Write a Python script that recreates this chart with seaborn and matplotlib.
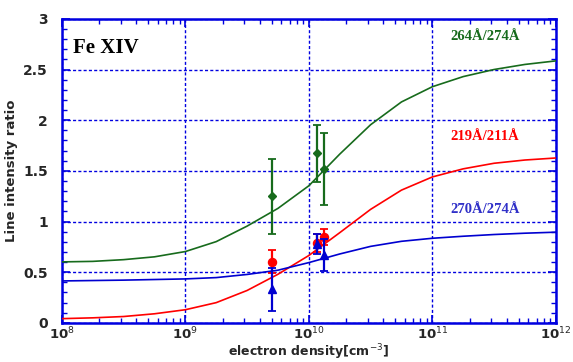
import numpy as np
import pandas as pd
import matplotlib
matplotlib.use("Agg")
import matplotlib.pyplot as plt
import seaborn as sns
from matplotlib.ticker import LogLocator, MultipleLocator, NullFormatter, FixedLocator

# ---- data ----
log_density = [8.0, 8.25, 8.5, 8.75, 9.0, 9.25, 9.5, 9.75, 10.0, 10.25, 10.5, 10.75, 11.0, 11.25, 11.5, 11.75, 12.0]
ratio_264_274 = [0.602, 0.607, 0.624, 0.652, 0.704, 0.802, 0.955, 1.13, 1.353, 1.665, 1.955, 2.18, 2.33, 2.43, 2.50, 2.55, 2.585]
ratio_219_211 = [0.042, 0.05, 0.063, 0.09, 0.13, 0.20, 0.32, 0.48, 0.665, 0.89, 1.12, 1.31, 1.44, 1.52, 1.575, 1.607, 1.627]
ratio_270_274 = [0.414, 0.418, 0.422, 0.428, 0.434, 0.447, 0.478, 0.52, 0.595, 0.68, 0.755, 0.805, 0.835, 0.855, 0.872, 0.885, 0.895]

obs_density = [5.0e9, 1.17e10, 1.32e10]
obs_264_274 = [1.248, 1.673, 1.519]
err_264_274 = [0.366, 0.282, 0.357]
obs_219_211 = [0.605, 0.79, 0.845]
err_219_211 = [0.115, 0.09, 0.08]
obs_270_274 = [0.33, 0.78, 0.668]
err_270_274 = [0.215, 0.10, 0.16]

series_labels = ["264\u00c5/274\u00c5", "219\u00c5/211\u00c5", "270\u00c5/274\u00c5"]
x_ticks = [1e8, 1e9, 1e10, 1e11, 1e12]
x_ticklabels = ["10$^{8}$", "10$^{9}$", "10$^{10}$", "10$^{11}$", "10$^{12}$"]
y_ticks = [0, 0.5, 1, 1.5, 2, 2.5, 3]
y_ticklabels = ["0", "0.5", "1", "1.5", "2", "2.5", "3"]

GREEN = "#176b1c"
RED = "#ff0000"
BLUE = "#0000d0"
AXBLUE = "#0000e0"

sns.set_style("ticks")
plt.rcParams['font.family'] = ['DejaVu Sans']

fig = plt.figure(figsize=(5.73, 3.62), dpi=100)
ax = fig.add_axes([0.108, 0.108, 0.862, 0.840])

dens = [10 ** v for v in log_density]
curves = pd.DataFrame({
    "density": dens * 3,
    "ratio": ratio_264_274 + ratio_219_211 + ratio_270_274,
    "series": [series_labels[0]] * len(dens) + [series_labels[1]] * len(dens) + [series_labels[2]] * len(dens),
})
palette = {series_labels[0]: GREEN, series_labels[1]: RED, series_labels[2]: BLUE}
sns.lineplot(data=curves, x="density", y="ratio", hue="series", palette=palette,
             linewidth=1.2, legend=False, ax=ax, zorder=3)

ax.errorbar(obs_density, obs_264_274, yerr=err_264_274, fmt="D", color=GREEN,
            markersize=3.8, capsize=2.6, elinewidth=1.6, capthick=1.3, zorder=4)
ax.errorbar(obs_density, obs_219_211, yerr=err_219_211, fmt="o", color=RED,
            markersize=5.8, capsize=2.6, elinewidth=1.6, capthick=1.3, zorder=4)
ax.errorbar(obs_density, obs_270_274, yerr=err_270_274, fmt="^", color=BLUE,
            markersize=5.8, capsize=2.6, elinewidth=1.6, capthick=1.3, zorder=5)

ax.set_xscale("log")
ax.set_xlim(1e8, 1e12)
ax.set_ylim(0, 3)

ax.xaxis.set_major_locator(FixedLocator(x_ticks))
ax.set_xticklabels(x_ticklabels)
ax.xaxis.set_minor_locator(LogLocator(base=10, subs=np.arange(2, 10), numticks=20))
ax.xaxis.set_minor_formatter(NullFormatter())
ax.set_yticks(y_ticks)
ax.set_yticklabels(y_ticklabels)
ax.yaxis.set_minor_locator(MultipleLocator(0.1))

for sp in ax.spines.values():
    sp.set_visible(True)
    sp.set_color(AXBLUE)
    sp.set_linewidth(1.8)

ax.tick_params(which="both", direction="in", color=AXBLUE, top=True, right=True)
ax.tick_params(axis="x", which="both", pad=2, labelsize=9.5)
ax.tick_params(axis="y", which="both", pad=10, labelsize=10)
ax.tick_params(which="major", length=6, width=1.2)
ax.tick_params(which="minor", length=3.5, width=1.0)
for lab in ax.get_xticklabels() + ax.get_yticklabels():
    lab.set_fontweight("bold")

ax.grid(True, which="major", color=AXBLUE, linestyle=(0, (2.2, 1.6)), linewidth=1.0, zorder=1)

ax.set_xlabel("electron density[cm$^{-3}$]", fontsize=9, fontweight="bold")
ax.xaxis.set_label_coords(0.5, -0.063)
ax.set_ylabel("Line intensity ratio", fontsize=9.5, fontweight="bold", labelpad=4)

serif = ["Liberation Serif", "DejaVu Serif"]
ax.text(0.022, 0.905, "Fe XIV", transform=ax.transAxes, fontsize=15, fontweight="bold",
        family=serif, color="black", va="center", ha="left")
ax.text(0.856, 0.941, series_labels[0], transform=ax.transAxes, fontsize=10.5, fontweight="bold",
        family=serif, color=GREEN, ha="center", va="center")
ax.text(0.856, 0.612, series_labels[1], transform=ax.transAxes, fontsize=10.5, fontweight="bold",
        family=serif, color=RED, ha="center", va="center")
ax.text(0.856, 0.373, series_labels[2], transform=ax.transAxes, fontsize=10.5, fontweight="bold",
        family=serif, color="#3030c8", ha="center", va="center")

fig.savefig("out.png", dpi=100)
